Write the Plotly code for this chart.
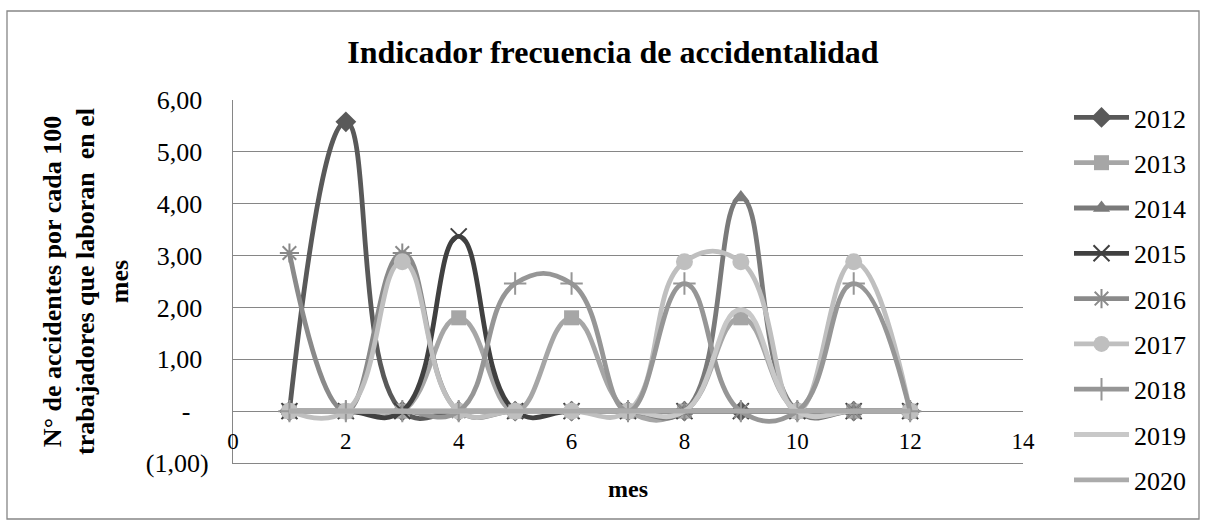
import plotly.graph_objects as go

months = [1, 2, 3, 4, 5, 6, 7, 8, 9, 10, 11, 12]
years = ["2012", "2013", "2014", "2015", "2016", "2017", "2018", "2019", "2020"]

v2012 = [0, 5.58, 0, 0, 0, 0, 0, 0, 0, 0, 0, 0]
v2013 = [0, 0, 0, 1.80, 0, 1.80, 0, 0, 1.80, 0, 0, 0]
v2014 = [0, 0, 0, 0, 0, 0, 0, 0, 4.12, 0, 0, 0]
v2015 = [0, 0, 0, 3.37, 0, 0, 0, 0, 0, 0, 0, 0]
v2016 = [3.05, 0, 3.05, 0, 0, 0, 0, 0, 0, 0, 0, 0]
v2017 = [0, 0, 2.88, 0, 0, 0, 0, 2.88, 2.88, 0, 2.88, 0]
v2018 = [0, 0, 0, 0, 2.46, 2.46, 0, 2.46, 0, 0, 2.46, 0]
v2019 = [0, 0, 0, 0, 0, 0, 0, 0, 1.96, 0, 0, 0]
v2020 = [0, 0, 0, 0, 0, 0, 0, 0, 0, 0, 0, 0]

yticks = [-1, 0, 1, 2, 3, 4, 5, 6]
ytick_text = ["(1,00)", "-\u00a0\u00a0\u2009", "1,00\u00a0", "2,00\u00a0", "3,00\u00a0",
              "4,00\u00a0", "5,00\u00a0", "6,00\u00a0"]

series = [v2012, v2013, v2014, v2015, v2016, v2017, v2018, v2019, v2020]
colors = ["#595959", "#a6a6a6", "#7a7a7a", "#404040", "#8a8a8a",
          "#bfbfbf", "#969696", "#c8c8c8", "#ababab"]
symbols = ["diamond", "square", "triangle-up", "x-thin", "asterisk",
           "circle", "cross-thin", None, None]
sizes = [16, 15, 15, 16, 16, 17, 16, 0, 0]

FONT = "Liberation Serif, Times New Roman, serif"

fig = go.Figure()
for yr, vals, col, sym, sz in zip(years, series, colors, symbols, sizes):
    if sym is None:
        fig.add_trace(go.Scatter(
            x=months, y=vals, name=yr, mode="lines", legendgroup=yr,
            line=dict(color=col, width=4.8, shape="spline", smoothing=1.3)))
    else:
        thin = sym in ("x-thin", "asterisk", "cross-thin")
        fig.add_trace(go.Scatter(
            x=months, y=vals, name=yr, mode="lines+markers", legendgroup=yr,
            line=dict(color=col, width=4.8, shape="spline", smoothing=1.3),
            marker=dict(symbol=sym, size=sz, color=col,
                        line=dict(color=col, width=2 if thin else 0))))

# outer chart border
L, R, T, B = 233, 1023, 100, 463
pw, ph = R - L, B - T
fig.add_shape(type="rect", xref="paper", yref="paper",
              x0=(7 - L) / pw, x1=(1199 - L) / pw,
              y0=(B - 519) / ph, y1=(B - 11) / ph,
              line=dict(color="#868686", width=1.3), fillcolor="rgba(0,0,0,0)",
              layer="below")

fig.update_layout(
    width=1206, height=525,
    margin=dict(l=L, r=1206 - R, t=T, b=525 - B, pad=0, autoexpand=False),
    paper_bgcolor="white", plot_bgcolor="white",
    font=dict(family=FONT, size=26, color="black"),
    title=dict(text="<b>Indicador frecuencia de accidentalidad</b>",
               x=613 / 1206, xanchor="center", y=1 - 52 / 525, yanchor="middle",
               font=dict(family=FONT, size=32, color="black")),
    showlegend=True,
    legend=dict(x=(1069 - L) / pw, xanchor="left", y=(B - 94) / ph, yanchor="top",
                traceorder="grouped", tracegroupgap=8.5, itemwidth=55,
                maxheight=600,
                font=dict(family=FONT, size=26, color="black"),
                bgcolor="rgba(0,0,0,0)", borderwidth=0),
    xaxis=dict(range=[0, 14], dtick=2, tick0=0, showgrid=False, zeroline=False,
               showline=True, linecolor="#868686", linewidth=1.3,
               ticks="", ticklabelposition="inside", ticklabeloverflow="allow",
               ticklabelstandoff=11,
               tickfont=dict(family=FONT, size=23, color="black"),
               title=dict(text="<b>mes</b>", standoff=27,
                          font=dict(family=FONT, size=24, color="black"))),
    yaxis=dict(range=[-1, 6], tickvals=yticks, ticktext=ytick_text,
               showgrid=True, gridcolor="#868686", gridwidth=1.3,
               zeroline=False, showline=True, linecolor="#868686", linewidth=1.3,
               ticks="", ticklabelstandoff=18,
               tickfont=dict(family=FONT, size=26, color="black"),
               title=dict(text="<b>N° de accidentes por cada 100<br>trabajadores que laboran  en el<br>mes</b>",
                          standoff=9,
                          font=dict(family=FONT, size=26, color="black"))),
)

fig.write_html("out.html", config={"displayModeBar": False},
               post_script="document.body.style.margin='0px';document.body.style.overflow='hidden';")
